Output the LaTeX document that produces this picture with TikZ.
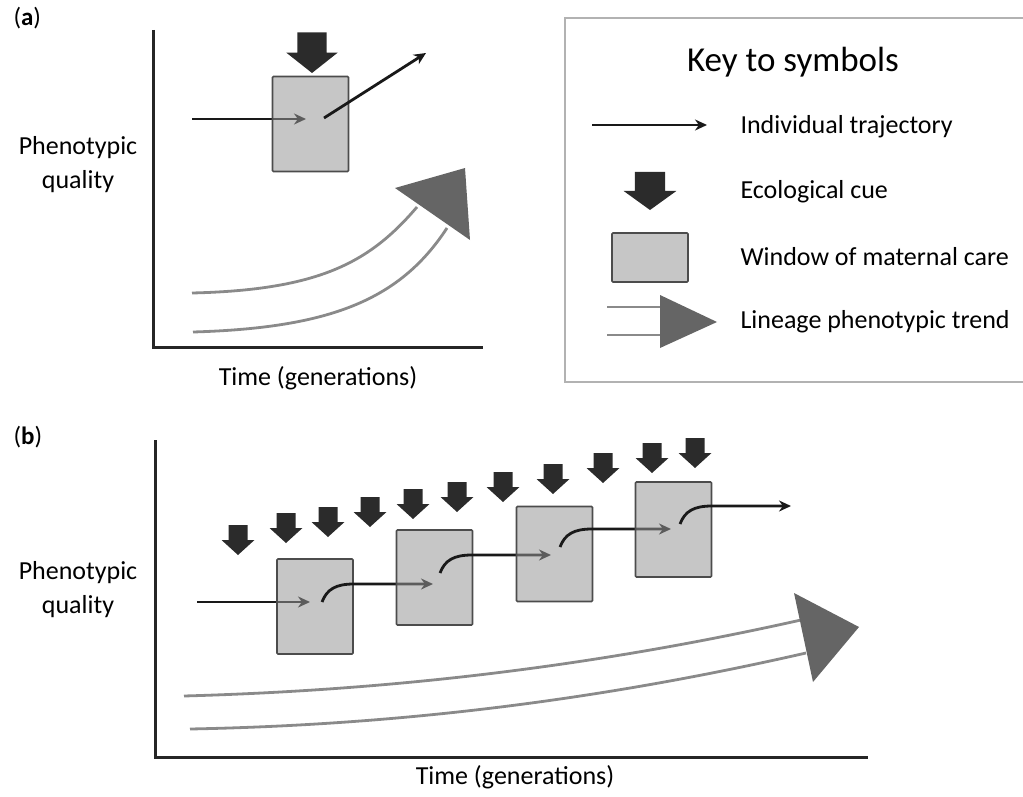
\documentclass[tikz,border=0pt]{standalone}
\usepackage{fontspec}
\setmainfont{Carlito}
\usetikzlibrary{arrows.meta,positioning}

\definecolor{cuegray}{HTML}{2B2B2B}
\definecolor{boxgray}{HTML}{959595}
\definecolor{trendgray}{HTML}{656565}
\definecolor{linegray}{HTML}{8A8A8A}

\tikzset{
  axisline/.style={line width=3pt,draw=black!85},
  window/.style={draw=black!70,line width=1.6pt,fill=boxgray,fill opacity=0.54,rounded corners=1pt,inner sep=0pt},
  traj/.style={line width=2.8pt,draw=black!90,-{Stealth[length=12pt,width=11pt]}},
  trend/.style={draw=linegray,line width=2.8pt},
  trendhead/.style={fill=trendgray},
  ylab/.style={font=\fontsize{26}{34}\selectfont,align=center},
  keytext/.style={font=\fontsize{26}{30}\selectfont,anchor=west},
  cue/.pic={\fill[cuegray] (-9.5,-30) -- (9.5,-30) -- (9.5,-15) -- (16.5,-15) -- (0,0) -- (-16.5,-15) -- (-9.5,-15) -- cycle;}
}

\begin{document}
\begin{tikzpicture}[x=1pt,y=-1pt]
  \useasboundingbox (0,0) rectangle (1023,797);

  % (a) one window
  \node[anchor=west,font=\fontsize{25}{25}\selectfont] (taga) at (10,18) {(\textbf{a})};
  \draw[axisline] (153,30) |- (483,347);
  \node[ylab] (qa) at (78,165) {Phenotypic\\quality};
  \node[ylab] (ta) at (318,378) {Time (generations)};
  \coordinate (a0) at (192,119);
  \coordinate (a1) at (306,119);
  \draw[traj] (a0) -- (a1);
  \node[window,minimum width=76pt,minimum height=95pt] (wa) at (310.5,124) {};
  \coordinate (a2) at (324,118);
  \coordinate (a3) at (426,53);
  \draw[traj] (a2) -- (a3);
  \pic[xscale=1.55,yscale=1.35] at (312,73) {cue};
  \draw[trend] (192,293) .. controls (320,290) and (370,262) .. (417,207);
  \draw[trend] (193,332) .. controls (330,328) and (400,300) .. (447,228);
  \fill[trendhead] (395,188) -- (465,168) -- (470,240) -- cycle;

  % key
  \draw[draw=black!30,line width=1.5pt] (565,18) rectangle (1035,382);
  \node[font=\fontsize{35}{35}\selectfont] (keytitle) at (793,62) {Key to symbols};
  \coordinate (k0) at (592,125);
  \coordinate (k1) at (707,125);
  \draw[traj,line width=2.2pt] (k0) -- (k1);
  \node[keytext] (ktraj) at (737,127) {Individual trajectory};
  \pic[xscale=1.6,yscale=1.27] at (650,210) {cue};
  \node[keytext] (kcue) at (737,192) {Ecological cue};
  \node[window,minimum width=76pt,minimum height=49pt] (kwin) at (650,257.5) {};
  \node[keytext] (kwindow) at (737,257) {Window of maternal care};
  \draw[trend,line width=2pt] (607,307) -- (660,307);
  \draw[trend,line width=2pt] (607,335) -- (660,335);
  \fill[trendhead] (660,295) -- (717,322) -- (660,348) -- cycle;
  \node[keytext] (ktrend) at (737,322) {Lineage phenotypic trend};

  % (b) repeated windows
  \node[anchor=west,font=\fontsize{25}{25}\selectfont] (tagb) at (10,437) {(\textbf{b})};
  \draw[axisline] (155,440) |- (868,757);
  \node[ylab] (qb) at (78,590) {Phenotypic\\quality};
  \node[ylab] (tb) at (515,777) {Time (generations)};
  \coordinate (b0) at (197,602);
  \coordinate (b1) at (310,602);
  \draw[traj] (b0) -- (b1);
  \foreach \bx/\by/\sx/\sy [count=\i] in {315/606.5/322/602, 434.5/577.5/440/573, 554.5/554/560/547, 673.5/529.5/680/524}{
    \node[window,minimum width=76pt,minimum height=95pt] (wb\i) at (\bx,\by) {};
    \draw[traj] (\sx,\sy) .. controls ({\sx+5},{\sy-13}) and ({\sx+14},{\sy-18}) .. ({\sx+32},{\sy-18}) -- ({\sx+111},{\sy-18});
  }
  \foreach \cx/\cy in {238/555, 286/543, 328/537, 370/527, 413/519, 457/512, 503/502, 553/494, 603/483, 652/473, 695/468}
    \pic at (\cx,\cy) {cue};
  \draw[trend] (184,696) .. controls (400,690) and (600,665) .. (801,620);
  \draw[trend] (190,729) .. controls (400,725) and (600,700) .. (806,653);
  \fill[trendhead] (794,593) -- (859,627) -- (813,682) -- cycle;
\end{tikzpicture}
\end{document}
